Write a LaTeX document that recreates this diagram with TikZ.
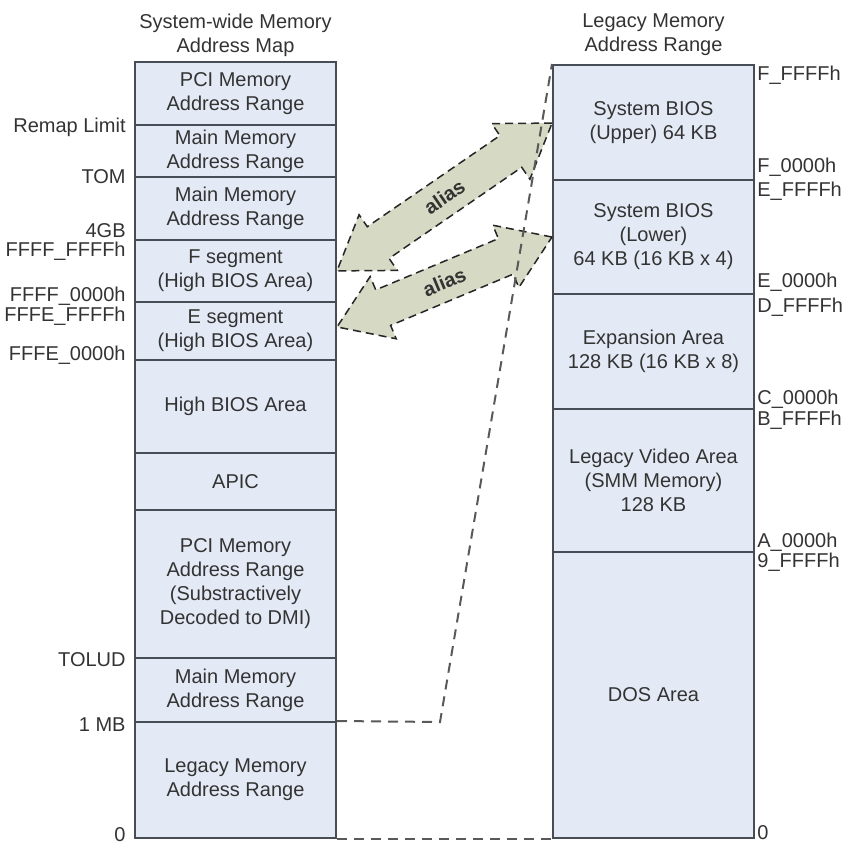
\documentclass[tikz,border=0pt]{standalone}
\usepackage{fontspec}
\setmainfont{Liberation Sans}
\usetikzlibrary{shapes.arrows}
\usepackage{xcolor}
\definecolor{boxfill}{RGB}{228,234,245}
\definecolor{boxline}{RGB}{72,76,84}
\definecolor{aliasfill}{RGB}{214,217,196}
\definecolor{txt}{RGB}{51,51,51}

\begin{document}
\begin{tikzpicture}[x=0.5pt,y=-0.5pt,
    font=\fontsize{10}{12}\selectfont, text=txt,
    region/.style={draw=boxline, line width=1pt, fill=boxfill,
      minimum width=100.5pt, align=center, inner sep=0pt},
    addr/.style={inner sep=0pt, text height=0.72em, text depth=0pt},
    alias/.style={double arrow, draw=black!85, dash pattern=on 4pt off 2.5pt,
      line width=0.75pt, fill=aliasfill, double arrow tip angle=68,
      double arrow head extend=7.25pt, inner xsep=1pt, inner ysep=5.75pt,
      text height=7pt, text depth=0pt,
      font=\bfseries\fontsize{10}{12}\selectfont},
    mapline/.style={dash pattern=on 5pt off 3.5pt, line width=1pt, draw=black!65}]

  \useasboundingbox (0,0) rectangle (846,846);

  % Titles over the two maps
  \node[align=center] (ltitle) at (235.5,35) {System-wide Memory\\Address Map};
  \node[align=center] (rtitle) at (653.5,35) {Legacy Memory\\Address Range};

  % The system-wide map, top to bottom
  \foreach \ytop/\ybot/\txt [count=\i] in {
      62/125/{PCI Memory\\Address Range},
      125/177/{Main Memory\\Address Range},
      177/240/{Main Memory\\Address Range},
      240/302/{F segment\\(High BIOS Area)},
      302/360/{E segment\\(High BIOS Area)},
      360/453/{High BIOS Area},
      453/510/{APIC},
      510/658/{PCI Memory\\Address Range\\(Substractively\\Decoded to DMI)},
      658/722/{Main Memory\\Address Range},
      722/838/{Legacy Memory\\Address Range}}{
    \node[region, minimum height={(\ybot-\ytop)*0.5pt}] (L\i)
      at (235.5,{(\ytop+\ybot)/2}) {\txt};
  }

  % The legacy map
  \foreach \ytop/\ybot/\txt [count=\i] in {
      65/180/{System BIOS\\(Upper) 64 KB},
      180/294/{System BIOS\\(Lower)\\64 KB (16 KB x 4)},
      294/409/{Expansion Area\\128 KB (16 KB x 8)},
      409/552/{Legacy Video Area\\(SMM Memory)\\128 KB},
      552/838/{DOS Area}}{
    \node[region, minimum height={(\ybot-\ytop)*0.5pt}] (R\i)
      at (653.5,{(\ytop+\ybot)/2}) {\txt};
  }

  % Addresses on the left
  \foreach \lbl/\y [count=\k] in {Remap Limit/125, TOM/176, 4GB/230,
      FFFF\_FFFFh/249, FFFF\_0000h/294, FFFE\_FFFFh/314, FFFE\_0000h/353,
      TOLUD/659, 1 MB/724, 0/834}
    \node[addr, anchor=east] (la\k) at (126,\y) {\lbl};

  % Addresses on the right
  \foreach \lbl/\y [count=\k] in {F\_FFFFh/73, F\_0000h/165, E\_FFFFh/189,
      E\_0000h/280, D\_FFFFh/305, C\_0000h/397, B\_FFFFh/418,
      A\_0000h/540, 9\_FFFFh/560, 0/832}
    \node[addr, anchor=west] (ra\k) at (757,\y) {\lbl};

  % The two alias arrows
  \node[alias, minimum height=130.5pt, rotate=34.5] (alias1) at (444.5,197) {alias};
  \node[alias, minimum height=116.5pt, rotate=22.7] (alias2) at (444.5,282) {alias};

  % Legacy range blown up on the right
  \coordinate (bend) at (440,722);
  \draw[mapline] (L10.north east) -- (bend) -- (R1.north west);
  \draw[mapline] (L10.south east) -- (R5.south west);
\end{tikzpicture}
\end{document}
